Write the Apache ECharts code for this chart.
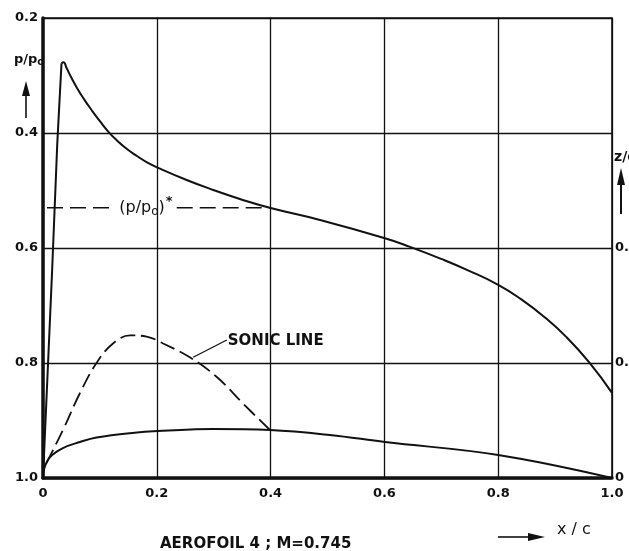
<!DOCTYPE html>
<html>
<head>
<meta charset="utf-8">
<script src="https://cdn.jsdelivr.net/npm/echarts@6/dist/echarts.min.js"></script>
<style>
  html, body { margin: 0; padding: 0; background: #fff; }
  #chart { width: 629px; height: 551px; }
</style>
</head>
<body>
<div id="chart"></div>
<script>
// Tick labels
const xTickLabels = ['0', '0.2', '0.4', '0.6', '0.8', '1.0'];
const pTickLabels = ['0.2', '0.4', '0.6', '0.8', '1.0'];
const zTickLabels = ['0', '0.1', '0.2'];

// Pressure distribution p/p0 along the chord (left axis, inverted)
const pressureRise = [[0, 1.0], [0.016, 0.64], [0.025, 0.42], [0.0325, 0.279]];
const pressureFall = [
  [0.0325, 0.279], [0.036, 0.277], [0.0417, 0.2875], [0.05, 0.304], [0.06, 0.322],
  [0.072, 0.341], [0.085, 0.3595], [0.1, 0.3795], [0.115, 0.398], [0.13, 0.413],
  [0.147, 0.4275], [0.165, 0.440], [0.182, 0.4505], [0.2056, 0.462], [0.2525, 0.4817],
  [0.2993, 0.4991], [0.346, 0.5148], [0.4019, 0.531], [0.4868, 0.5513], [0.601, 0.583],
  [0.645, 0.598], [0.70, 0.619], [0.745, 0.638], [0.800, 0.664], [0.84, 0.689],
  [0.88, 0.719], [0.92, 0.755], [0.96, 0.799], [1.0, 0.852]
];

// Critical pressure ratio (p/p0)*
const pStar = 0.53;
const pStarLeft = [[0, pStar], [0.127, pStar]];
const pStarRight = [[0.235, pStar], [0.4, pStar]];
const pStarLabelAt = [[0.181, pStar]];

// Aerofoil contour z/c (right axis)
const profile = [
  [0, 0], [0.002, 0.008], [0.012, 0.018], [0.035, 0.026], [0.065, 0.0313],
  [0.094, 0.0352], [0.153, 0.039], [0.211, 0.041], [0.299, 0.0426], [0.399, 0.0417],
  [0.504, 0.0374], [0.601, 0.0313], [0.80, 0.020], [1.0, 0]
];

// Sonic line z/c (right axis)
const sonicLine = [
  [0.006, 0.013], [0.035, 0.0417], [0.065, 0.0739], [0.094, 0.100], [0.123, 0.117],
  [0.153, 0.124], [0.182, 0.123], [0.211, 0.117], [0.258, 0.105], [0.305, 0.088],
  [0.351, 0.065], [0.399, 0.0417]
];
const sonicLeader = [[0.264, 0.105], [0.323, 0.12]];

const INK = '#111';
const FONT = 'DejaVu Sans';

function tickLabel(list, min, step) {
  return function (v) {
    const i = Math.round((v - min) / step);
    return Math.abs(v - (min + i * step)) < 1e-9 && list[i] !== undefined ? list[i] : '';
  };
}

const chart = echarts.init(document.getElementById('chart'), null, { renderer: 'canvas' });

const option = {
  backgroundColor: '#fff',
  animation: false,
  title: {
    text: 'AEROFOIL 4 ; M=0.745',
    left: 155, top: 532,
    textStyle: { fontFamily: FONT, fontSize: 15, fontWeight: 'bold', color: INK }
  },
  grid: {
    left: 43, top: 18, right: 17, bottom: 73,
    outerBoundsMode: 'none', containLabel: false,
    show: true, borderColor: INK, borderWidth: 1.6, backgroundColor: 'transparent'
  },
  xAxis: {
    type: 'value', min: 0, max: 1, interval: 0.2,
    axisLine: { show: true, onZero: false, lineStyle: { color: INK, width: 3.5 } },
    axisTick: { show: false },
    splitLine: { show: true, lineStyle: { color: INK, width: 1.3 } },
    axisLabel: {
      formatter: tickLabel(xTickLabels, 0, 0.2), margin: 9,
      fontFamily: FONT, fontSize: 13, fontWeight: 'bold', color: INK
    }
  },
  yAxis: [
    {
      type: 'value', inverse: true, min: 0.2, max: 1.0, interval: 0.2,
      axisLine: { show: true, onZero: false, lineStyle: { color: INK, width: 3.5 } },
      axisTick: { show: false },
      splitLine: { show: true, lineStyle: { color: INK, width: 1.3 } },
      axisLabel: {
        formatter: tickLabel(pTickLabels, 0.2, 0.2), margin: 5,
        fontFamily: FONT, fontSize: 13, fontWeight: 'bold', color: INK
      }
    },
    {
      type: 'value', position: 'right', min: 0, max: 0.4, interval: 0.1,
      axisLine: { show: false },
      axisTick: { show: false },
      splitLine: { show: false },
      axisLabel: {
        formatter: tickLabel(zTickLabels, 0, 0.1), margin: 3,
        fontFamily: FONT, fontSize: 13, fontWeight: 'bold', color: INK
      }
    }
  ],
  series: [
    {
      name: 'p/p0 rise', type: 'line', yAxisIndex: 0, data: pressureRise,
      showSymbol: false, smooth: false, lineStyle: { color: INK, width: 2 }, z: 5
    },
    {
      name: 'p/p0', type: 'line', yAxisIndex: 0, data: pressureFall,
      showSymbol: false, smooth: 0.5, lineStyle: { color: INK, width: 2 }, z: 5
    },
    {
      name: 'p* left', type: 'line', yAxisIndex: 0, data: pStarLeft,
      showSymbol: false, lineStyle: { color: INK, width: 1.6, type: [16, 7], dashOffset: -4 }
    },
    {
      name: 'p* right', type: 'line', yAxisIndex: 0, data: pStarRight,
      showSymbol: false, lineStyle: { color: INK, width: 1.6, type: [16, 7] }
    },
    {
      name: 'p* label', type: 'scatter', yAxisIndex: 0, data: pStarLabelAt,
      symbolSize: 0, silent: true, itemStyle: { opacity: 1, color: INK },
      label: {
        show: true, position: 'inside', color: INK,
        formatter: '{b|(p/p}{s|o}{b|)}{t|*}',
        rich: {
          b: { fontFamily: FONT, fontSize: 16, color: INK },
          s: { fontFamily: FONT, fontSize: 12, color: INK, padding: [9, 0, 0, 0] },
          t: { fontFamily: FONT, fontSize: 13, fontWeight: 'bold', color: INK, padding: [0, 0, 12, 1] }
        }
      }
    },
    {
      name: 'profile', type: 'line', yAxisIndex: 1, data: profile,
      showSymbol: false, smooth: 0.4, lineStyle: { color: INK, width: 2 }, z: 5
    },
    {
      name: 'sonic line', type: 'line', yAxisIndex: 1, data: sonicLine,
      showSymbol: false, smooth: 0.4, lineStyle: { color: INK, width: 1.8, type: [15, 6] }
    },
    {
      name: 'sonic leader', type: 'line', yAxisIndex: 1, data: sonicLeader,
      showSymbol: false, lineStyle: { color: INK, width: 1.3 },
      endLabel: {
        show: true, formatter: 'SONIC LINE', distance: 1, offset: [0, 1],
        fontFamily: FONT, fontSize: 15, fontWeight: 'bold', color: INK
      }
    }
  ],
  graphic: [
    // p/p0 axis caption with arrow
    {
      type: 'text', left: 14, top: 53,
      style: {
        text: '{a|p/p}{o|o}',
        rich: {
          a: { fontFamily: FONT, fontSize: 13, fontWeight: 'bold', fill: INK },
          o: { fontFamily: FONT, fontSize: 10, fontWeight: 'bold', fill: INK, padding: [6, 0, 0, 0] }
        }
      }
    },
    { type: 'line', shape: { x1: 26, y1: 118, x2: 26, y2: 92 }, style: { stroke: INK, lineWidth: 1.6 } },
    { type: 'polygon', shape: { points: [[22, 96], [26, 81], [30, 96]] }, style: { fill: INK } },
    // z/c axis caption with arrow
    {
      type: 'text', left: 614, top: 150,
      style: { text: 'z/c', fontFamily: FONT, fontSize: 14, fontWeight: 'bold', fill: INK }
    },
    { type: 'line', shape: { x1: 621, y1: 214, x2: 621, y2: 182 }, style: { stroke: INK, lineWidth: 2 } },
    { type: 'polygon', shape: { points: [[617, 185], [621, 168], [625, 185]] }, style: { fill: INK } },
    // x/c caption with arrow
    { type: 'line', shape: { x1: 498, y1: 537, x2: 530, y2: 537 }, style: { stroke: INK, lineWidth: 1.6 } },
    { type: 'polygon', shape: { points: [[528, 533], [545, 537], [528, 541]] }, style: { fill: INK } },
    {
      type: 'text', left: 557, top: 522,
      style: { text: 'x / c', fontFamily: FONT, fontSize: 16, fill: INK }
    }
  ]
};

chart.setOption(option);
</script>
</body>
</html>
